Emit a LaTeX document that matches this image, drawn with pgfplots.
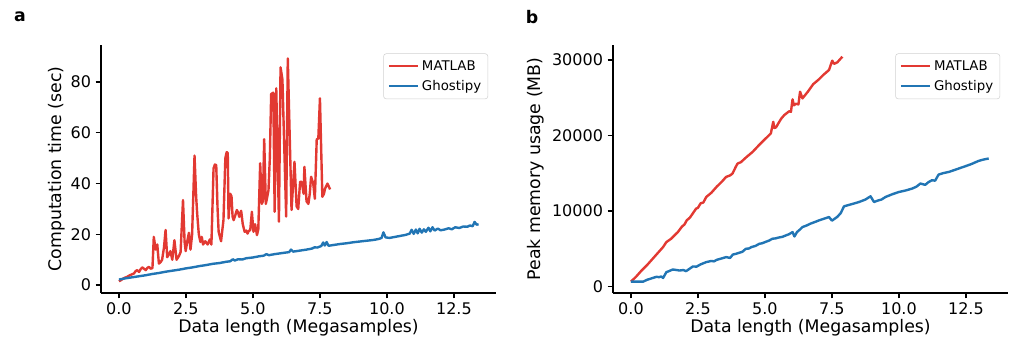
\documentclass[border=0pt]{standalone}
\usepackage{pgfplots}
\pgfplotsset{compat=1.18}
\usepackage{fontspec}
\setmainfont{DejaVu Sans}
\definecolor{mred}{RGB}{226,57,50}
\definecolor{mblue}{RGB}{33,117,180}
\newcommand{\labfont}{\fontsize{13}{15}\selectfont}
\pgfplotsset{
  panel/.style={
    scale only axis, width=296.25pt, height=186pt,
    anchor=south west,
    axis x line*=bottom, axis y line*=left,
    axis line style={line width=1.5pt, -},
    tick align=outside, major tick length=4pt,
    every tick/.style={black, line width=1pt},
    xmin=-0.67, xmax=14.07,
    xtick={0,2.5,5,7.5,10,12.5},
    xticklabels={0.0,2.5,5.0,7.5,10.0,12.5},
    tick label style={font=\fontsize{12}{14}\selectfont},
    /pgf/number format/assume math mode=true,
    /pgf/number format/1000 sep={},
    scaled y ticks=false,
    xlabel={Data length (Megasamples)},
    every axis x label/.style={at={(axis description cs:0.5,-0.141)}, anchor=center, font=\labfont},
    legend cell align=left,
    legend image code/.code={\draw[#1] (0pt,0pt) -- (22pt,0pt);},
    legend style={at={(0.98,0.966)}, anchor=north east, draw=black!18, rounded corners=2pt,
      font=\fontsize{10}{12}\selectfont, inner xsep=3pt, inner ysep=3pt, row sep=2pt},
    red line/.style={color=mred, line width=1.8pt, line join=round},
    blue line/.style={color=mblue, line width=1.8pt, line join=round},
  }
}
\begin{document}
\begin{tikzpicture}
\path[use as bounding box] (0pt,0pt) rectangle (762pt,257.25pt);
\node[font=\bfseries\fontsize{13}{15}\selectfont] at (15pt,244.5pt) {a};
\node[font=\bfseries\fontsize{13}{15}\selectfont] at (399pt,244.5pt) {b};
\begin{axis}[panel, at={(75.75pt,37.5pt)},
  ymin=-3.1, ymax=94.6, ytick={0,20,40,60,80},
  ylabel={Computation time (sec)},
  every axis y label/.style={at={(axis description cs:-0.111,0.5)}, rotate=90, anchor=center, font=\labfont}]
\addplot[red line] coordinates {
(0.00,1.5)(0.08,2.0)(0.16,2.6)(0.24,3.0)(0.31,3.3)(0.39,3.8)(0.47,4.2)(0.56,4.6)
(0.62,5.5)(0.68,5.9)(0.75,5.2)(0.81,6.3)(0.87,7.0)(0.94,6.4)(1.00,5.9)(1.06,6.8)
(1.12,7.2)(1.18,6.5)(1.25,6.7)(1.30,19.0)(1.37,14.0)(1.43,16.0)(1.49,8.5)(1.55,9.0)
(1.61,10.0)(1.68,14.8)(1.74,21.7)(1.80,11.0)(1.86,12.0)(1.92,13.4)(1.99,10.0)(2.07,17.7)
(2.15,10.0)(2.24,11.5)(2.30,13.0)(2.39,33.5)(2.45,17.0)(2.49,13.4)(2.55,17.3)(2.61,20.6)
(2.67,14.0)(2.73,20.0)(2.82,51.0)(2.88,35.0)(2.92,28.0)(2.98,20.0)(3.04,17.0)(3.09,19.0)
(3.14,16.0)(3.22,17.3)(3.31,16.0)(3.39,18.0)(3.45,16.0)(3.53,46.0)(3.58,47.5)(3.63,47.3)
(3.68,30.0)(3.72,21.0)(3.81,17.3)(3.90,25.6)(3.97,50.0)(4.02,52.4)(4.06,52.0)(4.09,26.3)
(4.15,36.0)(4.20,35.0)(4.24,27.0)(4.28,25.6)(4.34,27.5)(4.40,29.6)(4.45,28.5)(4.49,26.9)
(4.56,29.3)(4.62,24.0)(4.69,21.0)(4.75,21.5)(4.80,20.3)(4.84,21.3)(4.90,21.7)(4.96,28.9)
(5.02,21.0)(5.08,24.0)(5.15,19.7)(5.20,22.0)(5.27,48.0)(5.33,32.0)(5.37,33.0)(5.42,57.5)
(5.48,32.0)(5.52,34.0)(5.58,37.4)(5.63,50.0)(5.68,75.3)(5.76,75.8)(5.81,28.9)(5.87,77.5)
(5.97,25.0)(6.03,85.8)(6.10,81.0)(6.24,27.0)(6.30,89.3)(6.44,29.6)(6.50,40.0)(6.55,48.6)
(6.63,31.0)(6.69,30.0)(6.76,40.7)(6.82,40.7)(6.89,36.0)(6.92,46.6)(7.00,33.0)(7.07,32.0)
(7.12,36.0)(7.17,42.7)(7.25,40.0)(7.31,34.0)(7.38,57.4)(7.44,57.8)(7.50,73.6)(7.59,34.8)
(7.65,36.0)(7.69,38.0)(7.78,40.0)(7.88,37.7)
};
\addlegendentry{MATLAB}
\addplot[blue line] coordinates {
(0.00,2.2)(0.25,2.7)(0.50,3.1)(0.75,3.5)(1.00,3.9)(1.25,4.4)(1.50,4.8)(1.75,5.3)
(2.00,5.7)(2.25,6.1)(2.50,6.6)(2.75,7.0)(3.00,7.5)(3.25,7.9)(3.50,8.4)(3.75,8.7)
(4.00,9.2)(4.15,9.4)(4.25,10.2)(4.32,9.7)(4.45,10.2)(4.60,10.1)(4.75,10.6)(5.00,10.9)
(5.25,11.4)(5.40,11.6)(5.50,12.2)(5.60,11.8)(5.80,12.2)(6.00,12.5)(6.20,12.8)(6.35,13.0)
(6.42,14.0)(6.50,13.2)(6.75,13.6)(7.00,14.0)(7.20,14.4)(7.30,14.9)(7.40,14.8)(7.55,15.4)
(7.62,16.8)(7.68,15.6)(7.75,17.0)(7.82,15.5)(8.00,15.8)(8.25,16.2)(8.50,16.5)(8.75,16.9)
(9.00,17.2)(9.25,17.5)(9.50,17.8)(9.70,18.2)(9.80,18.6)(9.87,20.8)(9.95,18.8)(10.10,18.6)
(10.30,19.0)(10.50,19.4)(10.70,19.8)(10.85,20.3)(10.92,21.8)(11.00,20.2)(11.08,21.9)(11.15,20.4)
(11.22,22.2)(11.30,20.7)(11.38,22.0)(11.45,21.0)(11.55,22.6)(11.62,21.2)(11.70,22.8)(11.78,21.5)
(11.90,22.3)(12.00,21.6)(12.15,21.9)(12.30,22.4)(12.42,22.0)(12.55,22.8)(12.70,22.5)(12.85,23.1)
(13.00,23.0)(13.10,23.5)(13.20,23.2)(13.27,24.9)(13.35,23.8)(13.42,24.0)
};
\addlegendentry{Ghostipy}
\end{axis}
\begin{axis}[panel, at={(459.75pt,37.5pt)},
  ymin=-900, ymax=32000, ytick={0,10000,20000,30000},
  ylabel={Peak memory usage (MB)},
  every axis y label/.style={at={(axis description cs:-0.195,0.5)}, rotate=90, anchor=center, font=\labfont}]
\addplot[red line] coordinates {
(0.00,600)(0.20,1300)(0.40,2100)(0.60,2800)(0.80,3600)(1.00,4400)(1.20,5200)(1.32,5850)
(1.50,6300)(1.75,7180)(1.90,7900)(2.00,8200)(2.08,8740)(2.20,9100)(2.43,10290)(2.50,10400)
(2.60,11000)(2.70,11100)(2.81,11840)(3.00,12400)(3.20,13200)(3.40,13900)(3.55,14500)(3.70,14700)
(3.79,14950)(3.92,15900)(3.98,16280)(4.10,16450)(4.30,17100)(4.54,17820)(4.80,18800)(5.00,19500)
(5.22,20270)(5.31,21810)(5.35,21000)(5.41,21060)(5.60,22200)(5.72,22700)(5.90,23200)(5.97,23140)
(6.03,24790)(6.08,24000)(6.15,24200)(6.25,24120)(6.31,25800)(6.40,24920)(6.60,25800)(6.80,26800)
(7.00,27400)(7.20,28100)(7.39,28680)(7.51,29920)(7.58,29500)(7.70,29700)(7.80,30100)(7.89,30450)
};
\addlegendentry{MATLAB}
\addplot[blue line] coordinates {
(0.00,600)(0.20,600)(0.45,600)(0.60,850)(0.82,1100)(0.95,1250)(1.05,1200)(1.13,1290)
(1.20,1100)(1.32,1860)(1.45,2050)(1.56,2220)(1.70,2150)(1.81,2080)(1.95,2150)(2.06,2000)
(2.20,2350)(2.31,2620)(2.45,2600)(2.60,2900)(2.81,3200)(3.00,3350)(3.10,3300)(3.20,3500)(3.40,3700)
(3.55,3860)(3.70,3750)(3.80,4200)(3.92,4300)(4.05,4450)(4.15,4550)(4.29,4970)(4.40,5000)(4.50,5200)(4.65,5350)(4.79,5630)
(4.90,5700)(5.00,5850)(5.15,6050)(5.28,6300)(5.40,6350)(5.50,6450)(5.65,6550)(5.78,6740)(5.90,6900)(6.03,7180)(6.10,6600)(6.20,7200)
(6.30,7500)(6.40,7850)(6.55,8050)(6.70,8300)(6.85,8500)(7.02,8740)(7.20,8950)(7.39,9180)(7.50,8700)(7.70,9200)(7.83,9710)
(7.95,10600)(8.20,10850)(8.35,11000)(8.51,11170)(8.75,11500)(8.94,11930)(9.07,11170)(9.20,11350)(9.35,11500)(9.50,11840)
(9.75,12200)(10.00,12500)(10.25,12700)(10.49,12950)(10.65,13200)(10.80,13620)(10.98,13450)(11.10,13800)
(11.23,14060)(11.35,14000)(11.48,14810)(11.65,15000)(11.86,15160)(12.10,15450)(12.30,15700)(12.48,15920)
(12.70,16200)(12.97,16620)(13.15,16800)(13.35,16940)
};
\addlegendentry{Ghostipy}
\end{axis}
\end{tikzpicture}
\end{document}
